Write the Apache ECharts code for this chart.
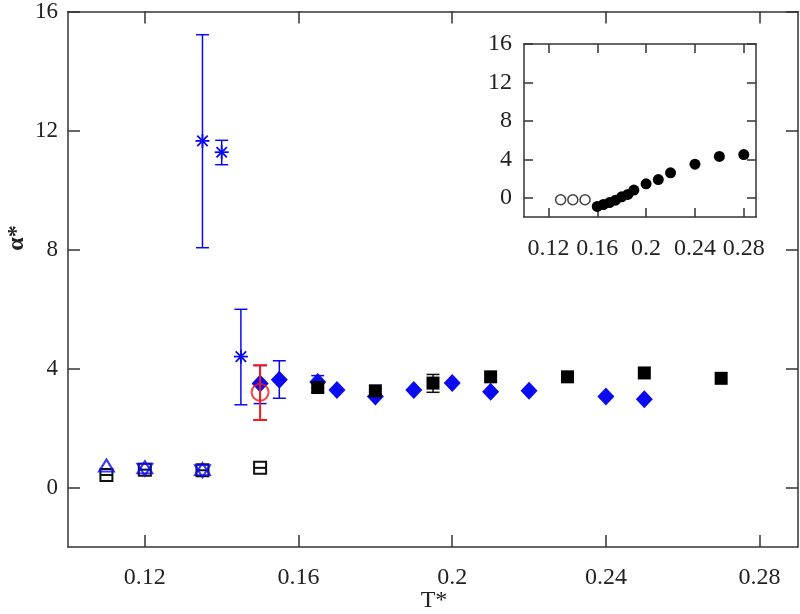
<!DOCTYPE html>
<html>
<head>
<meta charset="utf-8">
<script src="https://cdn.jsdelivr.net/npm/echarts@6/dist/echarts.min.js"></script>
<style>
html,body{margin:0;padding:0;background:#fff;}
#chart{width:800px;height:614px;}
</style>
</head>
<body>
<div id="chart"></div>
<script>
// ---- Data ----
const xTicks = [0.12, 0.16, 0.2, 0.24, 0.28];
const yTicks = [0, 4, 8, 12, 16];

// blue asterisks [T, alpha, low, high]
const starData = [[0.135, 11.65, 8.06, 15.22], [0.14, 11.27, 10.85, 11.67], [0.145, 4.4, 2.78, 5.99]];
// red open circle [T, alpha, low, high]
const redCircleData = [[0.15, 3.2, 2.27, 4.11]];
// blue filled diamonds [T, alpha]
const blueDiamondData = [[0.15, 3.5], [0.155, 3.62], [0.165, 3.55], [0.17, 3.28], [0.18, 3.06], [0.19, 3.28], [0.2, 3.51], [0.21, 3.22], [0.22, 3.25], [0.24, 3.06], [0.25, 2.97]];
const blueDiamondErr = [[0.15, 3.5, 2.82, 4.1], [0.155, 3.62, 3.0, 4.26], [0.165, 3.55, 3.35, 3.76]];
// black filled squares [T, alpha]
const blackSquareData = [[0.165, 3.36], [0.18, 3.25], [0.195, 3.51], [0.21, 3.72], [0.23, 3.72], [0.25, 3.85], [0.27, 3.67]];
const blackSquareErr = [[0.195, 3.51, 3.2, 3.8], [0.165, 3.36, 3.2, 3.5]];
// low-T open markers
const openTriUpData = [[0.11, 0.74], [0.12, 0.68], [0.135, 0.62]];
const openTriDownData = [[0.12, 0.6], [0.135, 0.55]];
const openSquareData = [[0.11, 0.42], [0.12, 0.6], [0.135, 0.58], [0.15, 0.66]];

// inset
const insetOpenData = [[0.13, -0.2], [0.14, -0.2], [0.15, -0.2]];
const insetFilledData = [[0.16, -0.9], [0.165, -0.7], [0.17, -0.5], [0.175, -0.25], [0.18, 0.1], [0.185, 0.35], [0.19, 0.8], [0.2, 1.45], [0.21, 1.9], [0.22, 2.6], [0.24, 3.5], [0.26, 4.3], [0.28, 4.5]];

// ---- Chart ----
const FONT = 'Liberation Serif';
const BLUE = '#0a0af0';
const RED = '#ee1c1c';
const FRAME = '#333';

function errRender(color, cap, lw) {
  return function (params, api) {
    const x = api.value(0), lo = api.value(2), hi = api.value(3);
    const t = api.coord([x, hi]), b = api.coord([x, lo]);
    const st = {stroke: color, lineWidth: lw};
    return {type: 'group', children: [
      {type: 'line', shape: {x1: t[0], y1: t[1], x2: b[0], y2: b[1]}, style: st},
      {type: 'line', shape: {x1: t[0] - cap, y1: t[1], x2: t[0] + cap, y2: t[1]}, style: st},
      {type: 'line', shape: {x1: b[0] - cap, y1: b[1], x2: b[0] + cap, y2: b[1]}, style: st}
    ]};
  };
}
function starRender(params, api) {
  const p = api.coord([api.value(0), api.value(1)]);
  const r = 7, d = 5.2;
  const st = {stroke: BLUE, lineWidth: 1.8};
  return {type: 'group', children: [
    {type: 'line', shape: {x1: p[0] - r, y1: p[1], x2: p[0] + r, y2: p[1]}, style: st},
    {type: 'line', shape: {x1: p[0], y1: p[1] - r, x2: p[0], y2: p[1] + r}, style: st},
    {type: 'line', shape: {x1: p[0] - d, y1: p[1] - d, x2: p[0] + d, y2: p[1] + d}, style: st},
    {type: 'line', shape: {x1: p[0] - d, y1: p[1] + d, x2: p[0] + d, y2: p[1] - d}, style: st}
  ]};
}
function openSquareRender(params, api) {
  const p = api.coord([api.value(0), api.value(1)]);
  const h = 6;
  const st = {stroke: '#111', lineWidth: 2, fill: null};
  return {type: 'group', children: [
    {type: 'rect', shape: {x: p[0] - h, y: p[1] - h, width: 2 * h, height: 2 * h}, style: st},
    {type: 'line', shape: {x1: p[0] - h, y1: p[1], x2: p[0] + h, y2: p[1]}, style: st}
  ]};
}

function axisCommon(extra) {
  return Object.assign({
    type: 'value',
    axisLine: {show: true, onZero: false, lineStyle: {color: FRAME, width: 1.5}},
    splitLine: {show: false}
  }, extra);
}
function ticks(len, vals) {
  return {show: true, inside: true, length: len, customValues: vals, lineStyle: {color: FRAME, width: 1.5}};
}

const option = {
  backgroundColor: '#fff',
  animation: false,
  grid: [
    {left: 68, top: 10, right: 2, bottom: 67},
    {left: 524, top: 44, width: 232, height: 173}
  ],
  xAxis: [
    axisCommon({gridIndex: 0, position: 'bottom', min: 0.1, max: 0.29, axisTick: ticks(12, xTicks),
      axisLabel: {customValues: xTicks, fontFamily: FONT, fontSize: 24, color: '#222', margin: 19}}),
    axisCommon({gridIndex: 0, position: 'top', min: 0.1, max: 0.29, axisTick: ticks(12, xTicks), axisLabel: {show: false}}),
    axisCommon({gridIndex: 1, position: 'bottom', min: 0.1, max: 0.29, axisTick: ticks(9, xTicks),
      axisLabel: {customValues: xTicks, fontFamily: FONT, fontSize: 24, color: '#222', margin: 20}}),
    axisCommon({gridIndex: 1, position: 'top', min: 0.1, max: 0.29, axisTick: ticks(9, xTicks), axisLabel: {show: false}})
  ],
  yAxis: [
    axisCommon({gridIndex: 0, position: 'left', min: -2, max: 16, axisTick: ticks(12, yTicks),
      axisLabel: {customValues: yTicks, fontFamily: FONT, fontSize: 23, color: '#222', margin: 10}}),
    axisCommon({gridIndex: 0, position: 'right', min: -2, max: 16, axisTick: ticks(12, yTicks), axisLabel: {show: false}}),
    axisCommon({gridIndex: 1, position: 'left', min: -2, max: 16, axisTick: ticks(9, yTicks),
      axisLabel: {customValues: yTicks, fontFamily: FONT, fontSize: 24, color: '#222', margin: 12}}),
    axisCommon({gridIndex: 1, position: 'right', min: -2, max: 16, axisTick: ticks(9, yTicks), axisLabel: {show: false}})
  ],
  graphic: [
    {type: 'text', x: 434, y: 601, style: {text: 'T*', fontFamily: FONT, fontSize: 24, fill: '#222', align: 'center', verticalAlign: 'middle'}},
    {type: 'text', x: 17, y: 238, rotation: Math.PI / 2,
      style: {text: 'α*', fontFamily: FONT, fontSize: 24, fontWeight: 'bold', fill: '#222', align: 'center', verticalAlign: 'middle'}}
  ],
  series: [
    {type: 'custom', xAxisIndex: 0, yAxisIndex: 0, data: openSquareData, encode: {x: 0, y: 1}, renderItem: openSquareRender, z: 3},
    {type: 'scatter', xAxisIndex: 0, yAxisIndex: 0, data: openTriUpData, symbol: 'triangle', symbolSize: [15, 12],
      itemStyle: {color: 'transparent', borderColor: BLUE, borderWidth: 2}, z: 4},
    {type: 'scatter', xAxisIndex: 0, yAxisIndex: 0, data: openTriDownData, symbol: 'triangle', symbolRotate: 180, symbolSize: [15, 12],
      itemStyle: {color: 'transparent', borderColor: BLUE, borderWidth: 2}, z: 4},
    {type: 'custom', xAxisIndex: 0, yAxisIndex: 0, data: starData, encode: {x: 0, y: [1, 2, 3]}, renderItem: errRender(BLUE, 6.5, 1.5), z: 3},
    {type: 'custom', xAxisIndex: 0, yAxisIndex: 0, data: starData, encode: {x: 0, y: 1}, renderItem: starRender, z: 4},
    {type: 'custom', xAxisIndex: 0, yAxisIndex: 0, data: blueDiamondErr, encode: {x: 0, y: [1, 2, 3]}, renderItem: errRender(BLUE, 6.5, 1.5), z: 3},
    {type: 'scatter', xAxisIndex: 0, yAxisIndex: 0, data: blueDiamondData, symbol: 'diamond', symbolSize: [17, 18],
      itemStyle: {color: BLUE, opacity: 1}, z: 5},
    {type: 'custom', xAxisIndex: 0, yAxisIndex: 0, data: blackSquareErr, encode: {x: 0, y: [1, 2, 3]}, renderItem: errRender('#111', 6.5, 1.5), z: 6},
    {type: 'scatter', xAxisIndex: 0, yAxisIndex: 0, data: blackSquareData, symbol: 'rect', symbolSize: [13, 13],
      itemStyle: {color: '#000', opacity: 1}, z: 7},
    {type: 'custom', xAxisIndex: 0, yAxisIndex: 0, data: redCircleData, encode: {x: 0, y: [1, 2, 3]}, renderItem: errRender(RED, 7, 2), z: 8},
    {type: 'scatter', xAxisIndex: 0, yAxisIndex: 0, data: redCircleData.map(d => [d[0], d[1]]), symbol: 'circle', symbolSize: 17,
      itemStyle: {color: 'transparent', borderColor: RED, borderWidth: 2}, z: 9},
    {type: 'scatter', xAxisIndex: 2, yAxisIndex: 2, data: insetOpenData, symbol: 'circle', symbolSize: 10,
      itemStyle: {color: '#fff', borderColor: '#111', borderWidth: 1.5}, z: 5},
    {type: 'scatter', xAxisIndex: 2, yAxisIndex: 2, data: insetFilledData, symbol: 'circle', symbolSize: 11,
      itemStyle: {color: '#000', opacity: 1}, z: 5}
  ]
};

const chart = echarts.init(document.getElementById('chart'), null, {renderer: 'canvas'});
chart.setOption(option);
</script>
</body>
</html>
